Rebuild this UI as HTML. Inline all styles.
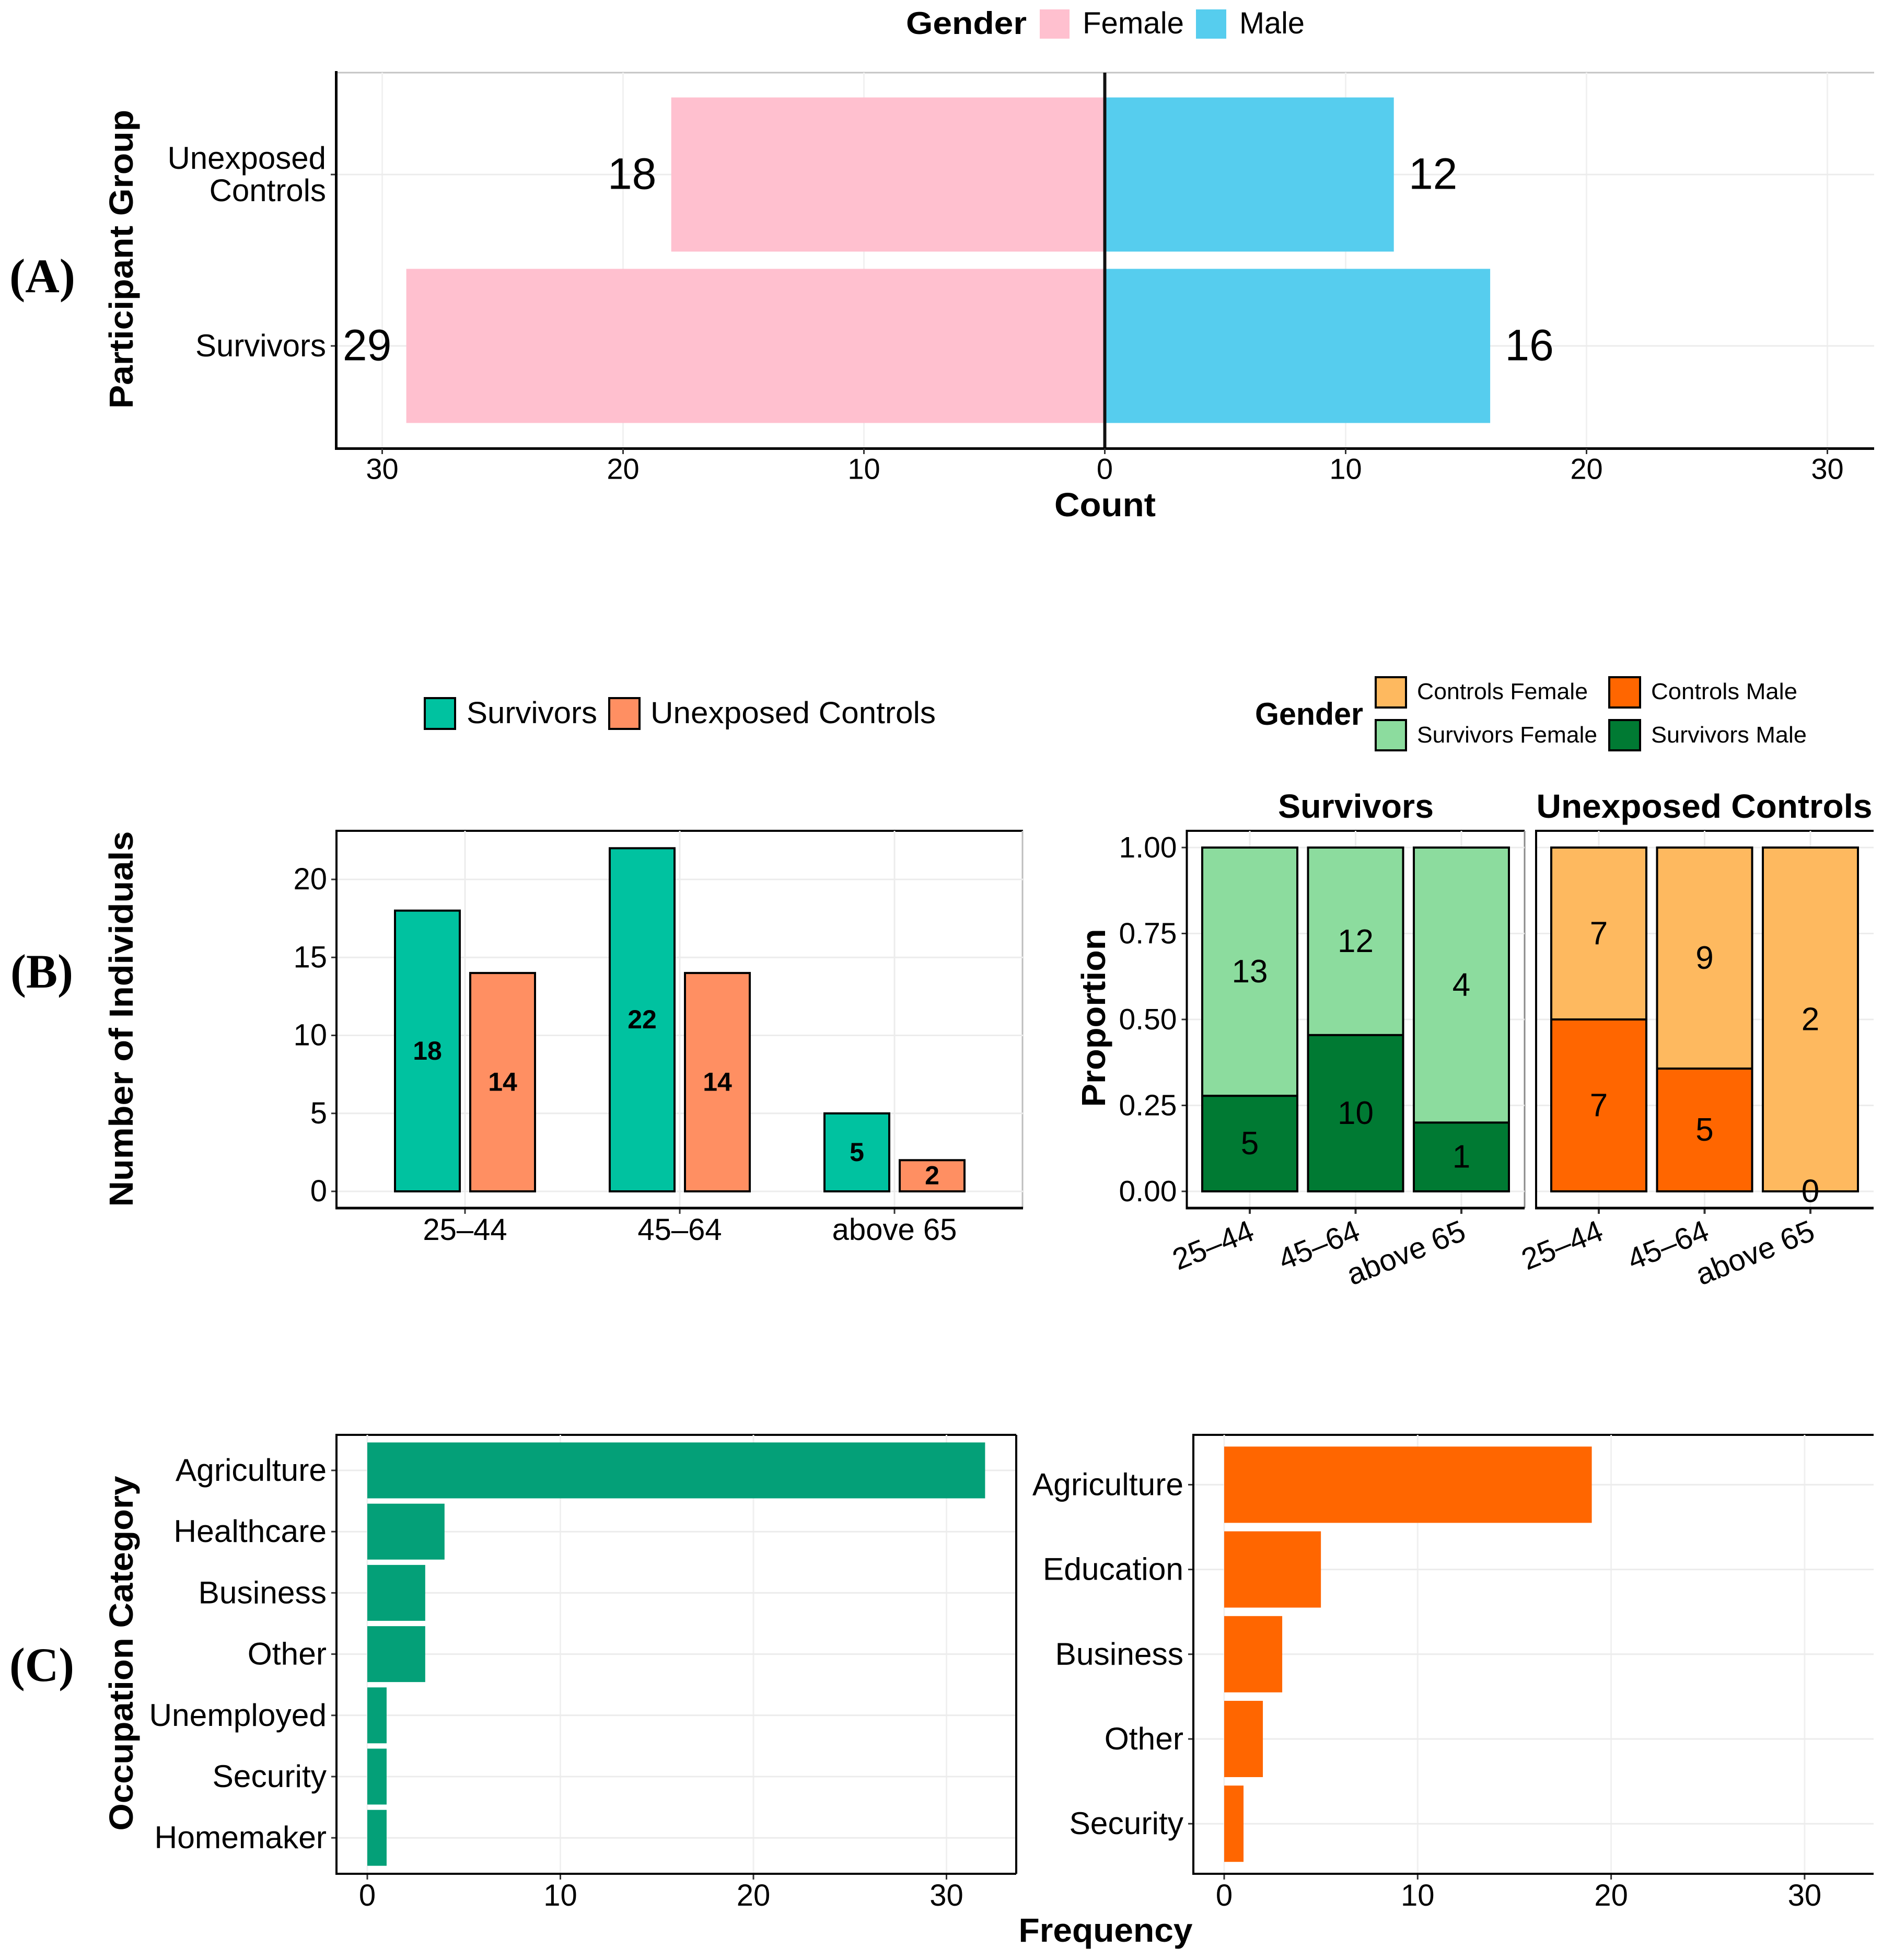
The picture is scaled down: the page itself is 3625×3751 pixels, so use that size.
<!DOCTYPE html>
<html lang="en">
<head>
<meta charset="utf-8">
<title>Participant demographics</title>
<style>
html,body{margin:0;padding:0;background:#fff}
svg{display:block}
text{font-family:"Liberation Sans","DejaVu Sans",sans-serif;fill:#000}
.b{font-weight:700}
.panel{font-family:"Liberation Serif","DejaVu Serif",serif;font-weight:700}
</style>
</head>
<body>
<svg id="fig" xmlns="http://www.w3.org/2000/svg" width="3625" height="3751" viewBox="0 0 3625 3751">
<rect x="0" y="0" width="3625" height="3751" fill="#fff"/>

<text class="panel" x="18" y="559" font-size="92" textLength="126" lengthAdjust="spacingAndGlyphs">(A)</text>
<text class="panel" x="20" y="1890" font-size="92" textLength="120" lengthAdjust="spacingAndGlyphs">(B)</text>
<text class="panel" x="18" y="3217" font-size="92" textLength="124" lengthAdjust="spacingAndGlyphs">(C)</text>

<text class="b" x="1734" y="65" font-size="60" textLength="231" lengthAdjust="spacingAndGlyphs">Gender</text>
<rect x="1990" y="18" width="57" height="56" fill="#FFC0CF"/>
<text x="2072" y="64" font-size="58" textLength="194" lengthAdjust="spacingAndGlyphs">Female</text>
<rect x="2289" y="18" width="58" height="56" fill="#56CDEE"/>
<text x="2372" y="64" font-size="58" textLength="125" lengthAdjust="spacingAndGlyphs">Male</text>

<text class="b" transform="translate(254 496) rotate(-90)" text-anchor="middle" font-size="64" textLength="572" lengthAdjust="spacingAndGlyphs">Participant Group</text>
<text class="b" x="2115" y="988" text-anchor="middle" font-size="64" textLength="194" lengthAdjust="spacingAndGlyphs">Count</text>

<rect x="813" y="1336" width="58" height="59" fill="#00C2A0" stroke="#000" stroke-width="4"/>
<text x="893" y="1384" font-size="58" textLength="250" lengthAdjust="spacingAndGlyphs">Survivors</text>
<rect x="1166" y="1336" width="58" height="59" fill="#FF8F62" stroke="#000" stroke-width="4"/>
<text x="1245" y="1384" font-size="58" textLength="546" lengthAdjust="spacingAndGlyphs">Unexposed Controls</text>

<text class="b" x="2402" y="1387" font-size="60" textLength="207" lengthAdjust="spacingAndGlyphs">Gender</text>
<rect x="2633" y="1296" width="58" height="58" fill="#FEB95F" stroke="#000" stroke-width="4"/>
<text x="2712" y="1338" font-size="44" textLength="327" lengthAdjust="spacingAndGlyphs">Controls Female</text>
<rect x="3080" y="1296" width="59" height="58" fill="#FF6600" stroke="#000" stroke-width="4"/>
<text x="3160" y="1338" font-size="44" textLength="280" lengthAdjust="spacingAndGlyphs">Controls Male</text>
<rect x="2633" y="1378" width="58" height="58" fill="#8CDC9E" stroke="#000" stroke-width="4"/>
<text x="2712" y="1421" font-size="44" textLength="345" lengthAdjust="spacingAndGlyphs">Survivors Female</text>
<rect x="3080" y="1378" width="59" height="58" fill="#007A33" stroke="#000" stroke-width="4"/>
<text x="3160" y="1421" font-size="44" textLength="298" lengthAdjust="spacingAndGlyphs">Survivors Male</text>

<text class="b" x="2595" y="1565" text-anchor="middle" font-size="64" textLength="298" lengthAdjust="spacingAndGlyphs">Survivors</text>
<text class="b" x="3262" y="1565" text-anchor="middle" font-size="64" textLength="643" lengthAdjust="spacingAndGlyphs">Unexposed Controls</text>

<text class="b" transform="translate(254 1950) rotate(-90)" text-anchor="middle" font-size="64" textLength="719" lengthAdjust="spacingAndGlyphs">Number of Individuals</text>
<text class="b" transform="translate(2115 1948) rotate(-90)" text-anchor="middle" font-size="64" textLength="341" lengthAdjust="spacingAndGlyphs">Proportion</text>
<text class="b" transform="translate(254 3164) rotate(-90)" text-anchor="middle" font-size="64" textLength="679" lengthAdjust="spacingAndGlyphs">Occupation Category</text>
<text class="b" x="2116" y="3716" text-anchor="middle" font-size="64" textLength="333" lengthAdjust="spacingAndGlyphs">Frequency</text>
</svg>

<script>
// ---- Panel A data ----
const genderGroups = ['Unexposed Controls', 'Survivors'];
const femaleCounts = [18, 29];
const maleCounts = [12, 16];
const countTicks = [-30, -20, -10, 0, 10, 20, 30];
// ---- Panel B (left) data ----
const ageGroups = ['25–44', '45–64', 'above 65'];
const survivorsByAge = [18, 22, 5];
const controlsByAge = [14, 14, 2];
const individualTicks = [0, 5, 10, 15, 20];
// ---- Panel B (right) data ----
const survivorsMale = [5, 10, 1];
const survivorsFemale = [13, 12, 4];
const controlsMale = [7, 5, 0];
const controlsFemale = [7, 9, 2];
const proportionTicks = [0, 0.25, 0.5, 0.75, 1];
// ---- Panel C data ----
const survivorOccupations = ['Agriculture', 'Healthcare', 'Business', 'Other', 'Unemployed', 'Security', 'Homemaker'];
const survivorFrequency = [32, 4, 3, 3, 1, 1, 1];
const controlOccupations = ['Agriculture', 'Education', 'Business', 'Other', 'Security'];
const controlFrequency = [19, 5, 3, 2, 1];
const frequencyTicks = [0, 10, 20, 30];

const svg = document.getElementById('fig');
const NS = 'http://www.w3.org/2000/svg';
const GRID = '#ececec';

function rect(x, y, w, h, fill, stroke, sw) {
  const el = document.createElementNS(NS, 'rect');
  el.setAttribute('x', x);
  el.setAttribute('y', y);
  el.setAttribute('width', w);
  el.setAttribute('height', h);
  el.setAttribute('fill', fill);
  if (stroke) { el.setAttribute('stroke', stroke); el.setAttribute('stroke-width', sw); }
  
  svg.appendChild(el);
  return el;
}
function line(x1, y1, x2, y2, color, sw) {
  const el = document.createElementNS(NS, 'line');
  el.setAttribute('x1', x1);
  el.setAttribute('y1', y1);
  el.setAttribute('x2', x2);
  el.setAttribute('y2', y2);
  el.setAttribute('stroke', color);
  el.setAttribute('stroke-width', sw);
  
  svg.appendChild(el);
  return el;
}
// cy = vertical centre of the digits / caps
function text(str, x, cy, size, anchor, bold) {
  const el = document.createElementNS(NS, 'text');
  el.setAttribute('x', x);
  el.setAttribute('y', cy + size * 0.33);
  el.setAttribute('font-size', size);
  el.setAttribute('text-anchor', anchor);
  if (bold) el.setAttribute('font-weight', '700');
  
  el.textContent = str;
  svg.appendChild(el);
  return el;
}

// ================= Panel A =================
const aX = v => 2114.5 + v * 46.1;
const aY = i => 334 + i * 328;
const aBar = 295;
line(643, 139, 3587, 139, '#c4c4c4', 3);
countTicks.forEach(t => {
  if (t !== 0) {
    const g = line(aX(t), 139, aX(t), 858, '#f1f1f1', 3);
    
  }
});
genderGroups.forEach((g, i) => {
  const gl = line(643, aY(i), 3587, aY(i), GRID, 3);
  
  const tk = line(633, aY(i), 643, aY(i), '#333', 3);
  
  const f = rect(aX(-femaleCounts[i]), aY(i) - aBar / 2, aX(0) - aX(-femaleCounts[i]), aBar, '#FFC0CF');
  
  const m = rect(aX(0), aY(i) - aBar / 2, aX(maleCounts[i]) - aX(0), aBar, '#56CDEE');
  
  const fl = text(String(femaleCounts[i]), aX(-femaleCounts[i]) - 75, aY(i), 84, 'middle');
  
  const ml = text(String(maleCounts[i]), aX(maleCounts[i]) + 75, aY(i), 84, 'middle');
  
});
const a1 = text('Unexposed', 624, 303, 60, 'end');

const a2 = text('Controls', 624, 365, 60, 'end');

const a3 = text('Survivors', 624, 662, 60, 'end');

line(aX(0), 139, aX(0), 858, '#111', 6);
line(643.5, 136, 643.5, 861, '#000', 5);
line(641, 858.5, 3587, 858.5, '#000', 5);
countTicks.forEach(t => {
  const tk = line(aX(t), 858, aX(t), 869, '#333', 3);
  
  const lb = text(String(Math.abs(t)), aX(t), 898, 56, 'middle');
  
});

// ================= Panel B left =================
const bY = v => 2280 - v * 29.85;
const bX = i => 890 + i * 411;
const bW = 124;
const bOff = 72;
line(644, 1590, 1958, 1590, '#000', 4);
line(1957, 1590, 1957, 2312, '#bdbdbd', 3);
ageGroups.forEach((g, i) => {
  const gl = line(bX(i), 1590, bX(i), 2312, GRID, 3);
  
});
individualTicks.forEach(t => {
  const gl = line(644, bY(t), 1958, bY(t), GRID, 3);
  
  const tk = line(634, bY(t), 644, bY(t), '#333', 3);
  
  const lb = text(String(t), 626, bY(t), 58, 'end');
  
});
ageGroups.forEach((g, i) => {
  const s = rect(bX(i) - bOff - bW / 2, bY(survivorsByAge[i]), bW, bY(0) - bY(survivorsByAge[i]), '#00C2A0', '#000', 4);
  
  const c = rect(bX(i) + bOff - bW / 2, bY(controlsByAge[i]), bW, bY(0) - bY(controlsByAge[i]), '#FF8F62', '#000', 4);
  
  const sl = text(String(survivorsByAge[i]), bX(i) - bOff, bY(survivorsByAge[i] / 2), 50, 'middle', true);
  
  const cl = text(String(controlsByAge[i]), bX(i) + bOff, bY(controlsByAge[i] / 2), 50, 'middle', true);
  
  const tk = line(bX(i), 2312, bX(i), 2323, '#333', 3);
  
  const lb = text(g, bX(i), 2354, 58, 'middle');
  
});
line(644, 1588, 644, 2314, '#000', 4);
line(642, 2312, 1958, 2312, '#000', 5);

// ================= Panel B right (facets) =================
const pY = v => 2280 - v * 658;
function facet(x0, x1, cx0, male, female, maleColor, femaleColor, showY) {
  const fX = i => cx0 + i * 202.5;
  const w = 182;
  line(x0, 1590, x1, 1590, '#000', 4);
  if (showY) {
    line(x1, 1590, x1, 2312, '#8a8a8a', 3);
  }
  ageGroups.forEach((g, i) => {
    const gl = line(fX(i), 1590, fX(i), 2312, GRID, 3);
    
  });
  proportionTicks.forEach(t => {
    const gl = line(x0, pY(t), x1, pY(t), GRID, 3);
    
    if (showY) {
      const tk = line(x0 - 10, pY(t), x0, pY(t), '#333', 3);
      
      const lb = text(t.toFixed(2), x0 - 19, pY(t), 57, 'end');
      
    }
  });
  ageGroups.forEach((g, i) => {
    const total = male[i] + female[i];
    const split = male[i] / total;
    const top = rect(fX(i) - w / 2, pY(1), w, pY(split) - pY(1), femaleColor, '#000', 4);
    
    const bot = rect(fX(i) - w / 2, pY(split), w, pY(0) - pY(split), maleColor, '#000', 4);
    
    const fl = text(String(female[i]), fX(i), pY(split + (1 - split) / 2), 62, 'middle');
    
    const ml = text(String(male[i]), fX(i), pY(split / 2), 62, 'middle');
    
    const tk = line(fX(i), 2312, fX(i), 2323, '#333', 4);
    
    const bx = fX(i) + 12;
    const by = 2371;
    const lb = document.createElementNS(NS, 'text');
    lb.setAttribute('x', bx);
    lb.setAttribute('y', by);
    lb.setAttribute('font-size', 58);
    lb.setAttribute('text-anchor', 'end');
    lb.setAttribute('transform', 'rotate(-22 ' + bx + ' ' + by + ')');
    
    
    lb.textContent = g;
    svg.appendChild(lb);
  });
  line(x0, 1588, x0, 2314, '#000', 4);
  line(x0 - 2, 2312, x1, 2312, '#000', 5);
}
facet(2271.5, 2918, 2392, survivorsMale, survivorsFemale, '#007A33', '#8CDC9E', true);
facet(2940, 3586, 3060, controlsMale, controlsFemale, '#FF6600', '#FEB95F', false);

// ================= Panel C =================
function occupation(x0, x1, zero, unit, y0, band, h, cats, vals, color) {
  const cX = v => zero + v * unit;
  const cY = i => y0 + i * band;
  line(x0, 2746, x1, 2746, '#000', 4);
  frequencyTicks.forEach(t => {
    const gl = line(cX(t), 2746, cX(t), 3586, '#f0f0f0', 3);
    
  });
  cats.forEach((c, i) => {
    const gl = line(x0, cY(i), x1, cY(i), GRID, 3);
    
    const b = rect(cX(0), cY(i) - h / 2, cX(vals[i]) - cX(0), h, color);
    
    const tk = line(x0 - 10, cY(i), x0, cY(i), '#333', 3);
    
    const lb = text(c, x0 - 19, cY(i), 60.5, 'end');
    
  });
  frequencyTicks.forEach(t => {
    const tk = line(cX(t), 3586, cX(t), 3597, '#333', 3);
    
    const lb = text(String(t), cX(t), 3628, 58, 'middle');
    
  });
  line(x0, 2744, x0, 3588, '#000', 4);
  line(x0 - 2, 3586, x1, 3586, '#000', 4);
}
occupation(644, 1945, 703, 36.95, 2814, 117.2, 107, survivorOccupations, survivorFrequency, '#04A078');
line(1945, 2746, 1945, 3586, '#000', 4);
occupation(2284, 3586, 2343, 37.03, 2841.4, 162.2, 146, controlOccupations, controlFrequency, '#FF6600');
</script>
</body>
</html>
